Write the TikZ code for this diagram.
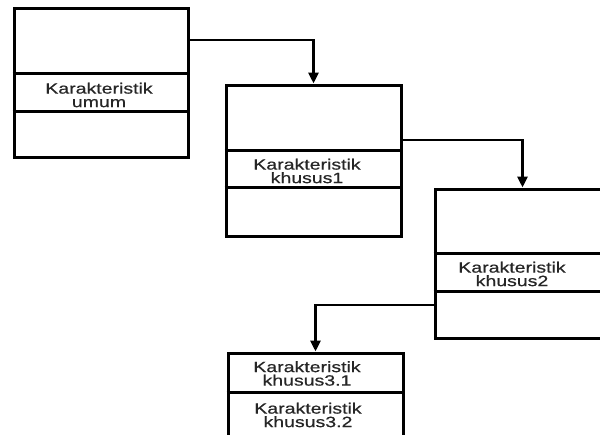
\documentclass[tikz,border=0pt]{standalone}
\usepackage{fontspec}
\setmainfont{Liberation Sans}[FakeStretch=1.3, FakeBold=0.6]
\usetikzlibrary{arrows.meta}
\tikzset{
  classbox/.style={draw, line width=3pt, minimum width=174pt, minimum height=149pt, inner sep=0pt},
  smallbox/.style={draw, line width=3pt, minimum width=175pt, minimum height=84pt, inner sep=0pt},
  divider/.style={line width=2.8pt},
  label/.style={align=center, inner sep=0pt, font=\fontsize{15}{13.5}\selectfont, text=black!85},
  conn/.style={line width=2.8pt, -{Triangle[width=10pt,length=11pt]}}
}
\begin{document}
\begin{tikzpicture}[x=1pt, y=-1pt]
  \useasboundingbox[clip] (0,0) rectangle (600,434);

  % boxes
  \node[classbox] (b1) at (101,82.5) {};
  \node[classbox, minimum width=175pt, minimum height=151pt] (b2) at (313.5,160.5) {};
  \node[classbox, minimum width=175pt] (b3) at (522.5,263.5) {};
  \node[smallbox] (b4) at (315.5,395) {};

  % compartment lines
  \draw[divider] ([yshift=-67pt]b1.north west) -- ([yshift=-67pt]b1.north east);
  \draw[divider] ([yshift=-105pt]b1.north west) -- ([yshift=-105pt]b1.north east);
  \draw[divider] ([yshift=-67pt]b2.north west) -- ([yshift=-67pt]b2.north east);
  \draw[divider] ([yshift=-104pt]b2.north west) -- ([yshift=-104pt]b2.north east);
  \draw[divider] ([yshift=-66pt]b3.north west) -- ([yshift=-66pt]b3.north east);
  \draw[divider] ([yshift=-104pt]b3.north west) -- ([yshift=-104pt]b3.north east);
  \draw[divider] ([yshift=-41pt]b4.north west) -- ([yshift=-41pt]b4.north east);

  % texts
  \node[label] (t1) at (99,95) {Karakteristik\\umum};
  \node[label] (t2) at (307,171) {Karakteristik\\khusus1};
  \node[label] (t3) at (512,274) {Karakteristik\\khusus2};
  \node[label] (t41) at (307,373.5) {Karakteristik\\khusus3.1};
  \node[label] (t42) at (308,415) {Karakteristik\\khusus3.2};

  % connectors
  \coordinate (e1) at (188,40);
  \coordinate (e2) at (401,140);
  \coordinate (e3) at (435,305);
  \draw[conn] (e1) -| (b2.north);
  \draw[conn] (e2) -| (b3.north);
  \draw[conn] (e3) -| (b4.north);
\end{tikzpicture}
\end{document}
